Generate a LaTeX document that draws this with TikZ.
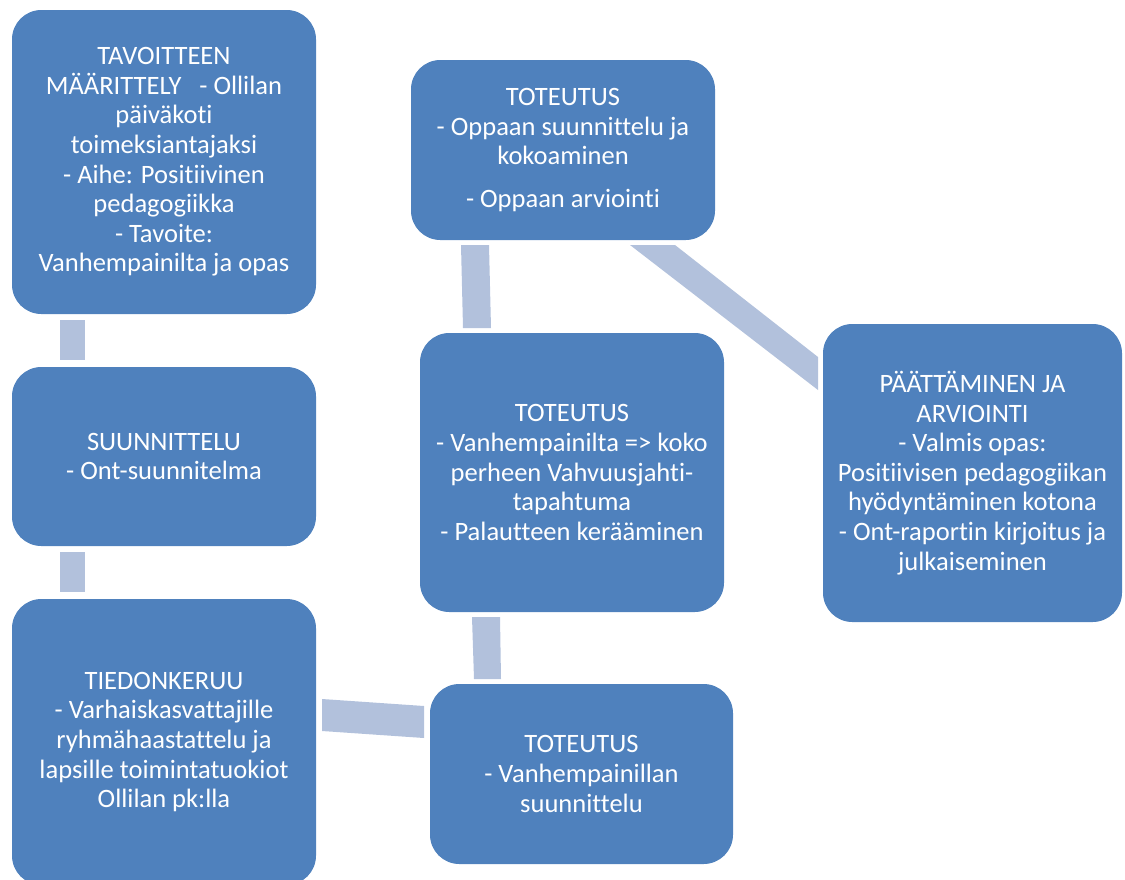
\documentclass[tikz,border=0pt]{standalone}
\usepackage{fontspec}
\setmainfont{Carlito}[Ligatures=NoCommon]
\definecolor{boxblue}{HTML}{4F81BD}
\definecolor{connblue}{HTML}{B2C1DC}
\tikzset{
  box/.style={fill=boxblue, rounded corners=22pt, text=white, align=center, inner sep=0pt,
    font=\fontsize{19.9}{22.2}\selectfont},
  conn/.style={fill=connblue, draw=none}
}
\begin{document}
\begin{tikzpicture}[x=0.75pt,y=-0.75pt]
\useasboundingbox (0,0) rectangle (1125,879);
\begin{scope}
\clip (0,0) rectangle (1125,879);
% boxes
\node[box, minimum width=228pt, minimum height=228pt] (b1) at (164,162)
  {TAVOITTEEN\\MÄÄRITTELY\ \ \ - Ollilan\\päiväkoti\\toimeksiantajaksi\\- Aihe: Positiivinen\\pedagogiikka\\- Tavoite:\\Vanhempainilta ja opas};
\node[box, minimum width=228pt, minimum height=134.25pt] (b2) at (164,456.5)
  {SUUNNITTELU\\- Ont-suunnitelma};
\node[box, minimum width=228pt, minimum height=214.5pt] (b3) at (164,742)
  {TIEDONKERUU\\- Varhaiskasvattajille\\ryhmähaastattelu ja\\lapsille toimintatuokiot\\Ollilan pk:lla};
\node[box, minimum width=227.25pt, minimum height=135pt] (b4) at (581.5,774)
  {TOTEUTUS\\- Vanhempainillan\\suunnittelu};
\node[box, minimum width=228pt, minimum height=209.25pt] (b5) at (572,472.5)
  {TOTEUTUS\\- Vanhempainilta => koko\\perheen Vahvuusjahti-\\tapahtuma\\- Palautteen kerääminen};
\node[box, minimum width=228pt, minimum height=135pt] (b6) at (563,150)
  {TOTEUTUS\\- Oppaan suunnittelu ja\\kokoaminen\\[10pt]- Oppaan arviointi};
\node[box, minimum width=224.25pt, minimum height=223.5pt] (b7) at (972.5,473)
  {PÄÄTTÄMINEN JA\\ARVIOINTI\\- Valmis opas:\\Positiivisen pedagogiikan\\hyödyntäminen kotona\\- Ont-raportin kirjoitus ja\\julkaiseminen};
% connectors
\fill[conn] (60,320) -- (85,320) -- (85,360) -- (60,360) -- cycle;
\fill[conn] (60,552) -- (85,552) -- (85,592) -- (60,592) -- cycle;
\fill[conn] (322,699) -- (424,706) -- (424,738) -- (322,731) -- cycle;
\fill[conn] (472,617) -- (500,617) -- (501,679) -- (474,679) -- cycle;
\fill[conn] (461,245) -- (489,245) -- (491,328) -- (463,328) -- cycle;
\fill[conn] (630,245) -- (675,245) -- (818,357) -- (818,390) -- cycle;
\end{scope}
\end{tikzpicture}
\end{document}
